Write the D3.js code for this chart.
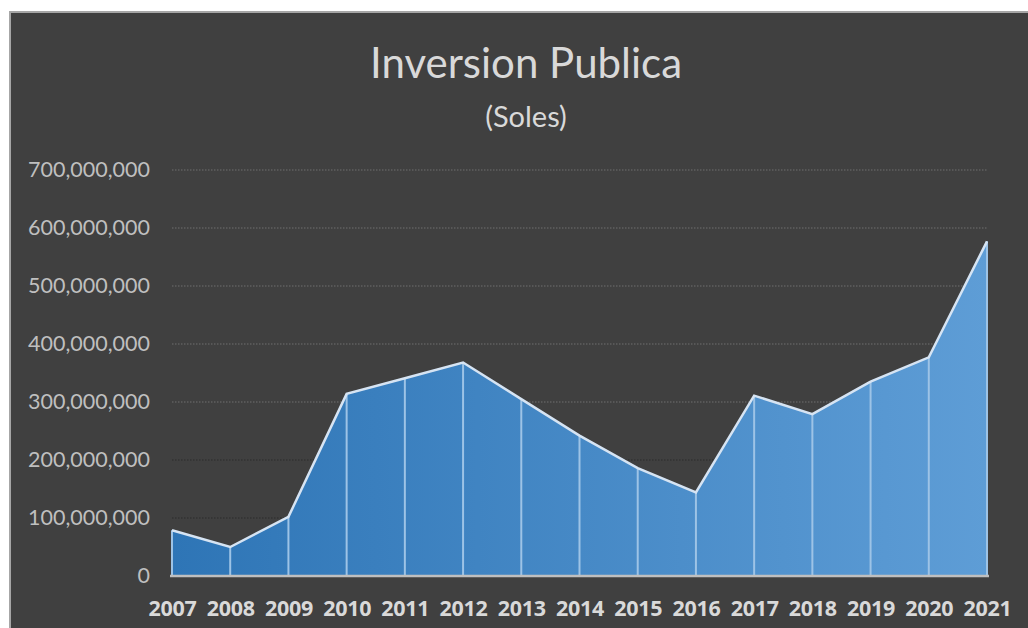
<!DOCTYPE html>
<html>
<head>
<meta charset="utf-8">
<script src="https://cdn.jsdelivr.net/npm/d3@7"></script>
<style>
  body { margin: 0; background: #fff; }
  svg { display: block; }
</style>
</head>
<body>
<div class="container"></div>
<script>
var years = ["2007","2008","2009","2010","2011","2012","2013","2014","2015","2016","2017","2018","2019","2020","2021"];
var inversion = [79e6, 50e6, 102e6, 314e6, 341e6, 368e6, 305e6, 242e6, 186e6, 144e6, 311e6, 279e6, 335e6, 377e6, 577e6];
var yTicks = [0, 100e6, 200e6, 300e6, 400e6, 500e6, 600e6, 700e6];

const WIDTH = 1028;
const HEIGHT = 628;

var translate = function(x, y){
  return "translate(" + x + "," + y + ")";
};

var _xScale = d3.scalePoint()
  .domain(years)
  .range([172, 987]);

var _yScale = d3.scaleLinear()
  .domain([0, 700e6])
  .range([576, 170]);

var fmt = d3.format(",");

var svg = d3.select('.container').append('svg')
  .attr('width', WIDTH)
  .attr('height', HEIGHT);

// chart frame
svg.append('rect')
  .attr('x', 10).attr('y', 12)
  .attr('width', 1040).attr('height', 640)
  .attr('fill', '#404040')
  .attr('stroke', '#a6a6a6')
  .attr('stroke-width', 2);

// title
svg.append('text')
  .attr('x', 526).attr('y', 78)
  .attr('text-anchor', 'middle')
  .attr('font-family', 'Lato, sans-serif')
  .attr('font-size', 42)
  .attr('fill', '#d9d9d9')
  .text('Inversion Publica');

svg.append('text')
  .attr('x', 526).attr('y', 127)
  .attr('text-anchor', 'middle')
  .attr('font-family', 'Lato, sans-serif')
  .attr('font-size', 29)
  .attr('fill', '#d9d9d9')
  .text('(Soles)');

// gridlines
svg.append('g')
  .selectAll('line').data(yTicks.filter(function(d){ return d > 0; }))
  .enter().append('line')
  .attr('x1', 172).attr('x2', 987)
  .attr('y1', function(d){ return _yScale(d); })
  .attr('y2', function(d){ return _yScale(d); })
  .attr('stroke', function(d){ return d <= 200e6 ? '#2a2a2a' : '#6e6e6e'; })
  .attr('stroke-width', 1.2)
  .attr('stroke-dasharray', '1.5,1.5');

// y axis
var yAxis = d3.axisLeft(_yScale).tickValues(yTicks).tickFormat(fmt).tickSize(0).tickPadding(0);
var yG = svg.append('g')
  .attr('transform', translate(150, 0))
  .call(yAxis);
yG.select('.domain').remove();
yG.selectAll('text')
  .attr('font-family', 'Lato, sans-serif')
  .attr('font-size', 21.5)
  .attr('fill', '#bfbfbf');

// gradient
var defs = svg.append('defs');
var grad = defs.append('linearGradient')
  .attr('id', 'areaGrad')
  .attr('gradientUnits', 'userSpaceOnUse')
  .attr('x1', 172).attr('x2', 987).attr('y1', 0).attr('y2', 0);
grad.append('stop').attr('offset', '0%').attr('stop-color', '#2e75b6');
grad.append('stop').attr('offset', '100%').attr('stop-color', '#5e9dd6');

var pts = years.map(function(y, i){ return { year: y, value: inversion[i] }; });

var _area = d3.area()
  .x(function(d){ return _xScale(d.year); })
  .y0(_yScale(0))
  .y1(function(d){ return _yScale(d.value); });

var _line = d3.line()
  .x(function(d){ return _xScale(d.year); })
  .y(function(d){ return _yScale(d.value); });

svg.append('path')
  .datum(pts)
  .attr('d', _area)
  .attr('fill', 'url(#areaGrad)');

// vertical separators
svg.append('g')
  .selectAll('line').data(pts)
  .enter().append('line')
  .attr('x1', function(d){ return _xScale(d.year); })
  .attr('x2', function(d){ return _xScale(d.year); })
  .attr('y1', _yScale(0))
  .attr('y2', function(d){ return _yScale(d.value); })
  .attr('stroke', '#9dc3e6')
  .attr('stroke-width', 2);

svg.append('path')
  .datum(pts)
  .attr('d', _line)
  .attr('fill', 'none')
  .attr('stroke', '#d6e4f3')
  .attr('stroke-width', 2.5);

// x axis
var xAxis = d3.axisBottom(_xScale).tickSize(0).tickPadding(0);
var xG = svg.append('g')
  .attr('transform', translate(0, _yScale(0)))
  .call(xAxis);
xG.select('.domain')
  .attr('stroke', '#bfbfbf')
  .attr('stroke-width', 2.5)
  .attr('d', 'M170,0H989');
xG.selectAll('text')
  .attr('y', 40)
  .attr('dy', 0)
  .attr('font-family', 'Open Sans, sans-serif')
  .attr('font-weight', 'bold')
  .attr('font-size', 21.5)
  .attr('letter-spacing', -0.3)
  .attr('fill', '#d9d9d9');
</script>
</body>
</html>
